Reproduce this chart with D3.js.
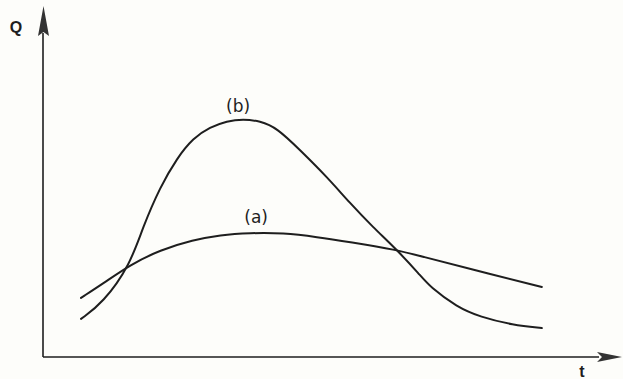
<!DOCTYPE html>
<html>
<head>
<meta charset="utf-8">
<script src="https://cdn.jsdelivr.net/npm/d3@7"></script>
<style>
  html, body { margin: 0; padding: 0; background: #fdfdfa; }
  svg { display: block; }
</style>
</head>
<body>
<svg id="chart" width="623" height="379"></svg>
<script>
// time (t) values and discharge (Q) values for each hydrograph
const tA = [0.99, 1.59, 2.27, 3.05, 3.91, 4.61, 5.39, 6.25, 7.14, 7.99, 9.22, 9.82, 11.12, 12.99];
const qA = [1.74, 2.18, 2.71, 3.15, 3.44, 3.59, 3.65, 3.65, 3.53, 3.38, 3.15, 2.97, 2.59, 2.06];

const tB = [0.99, 1.56, 2.27, 2.60, 3.05, 3.49, 3.91, 4.35, 4.79, 5.21, 5.65, 6.09, 6.69, 7.40, 7.99, 8.59, 9.22, 9.82, 10.08, 10.78, 11.38, 12.24, 12.99];
const qB = [1.12, 1.59, 2.71, 3.82, 5.00, 5.85, 6.44, 6.76, 6.94, 7.00, 6.94, 6.74, 6.09, 5.29, 4.53, 3.82, 3.15, 2.41, 2.06, 1.47, 1.18, 0.94, 0.85];

const seriesLabels = ["(a)", "(b)"];
const labelPos = [{t: 5.55, q: 3.94}, {t: 5.08, q: 7.21}]; // label anchor positions in data units
const axisLabels = {x: "t", y: "Q"};

const svg = d3.select("#chart");
const ink = "#1e1e1e";

const x = d3.scaleLinear().domain([0, 15]).range([43, 619]);
const y = d3.scaleLinear().domain([0, 10]).range([357, 17]);

// axes (no ticks)
const xAxis = svg.append("g")
  .attr("transform", `translate(0,${y(0)})`)
  .call(d3.axisBottom(x).tickValues([]).tickSizeOuter(0));
xAxis.select(".domain").attr("stroke", ink).attr("stroke-width", 1.6)
  .attr("d", `M${x(0)},0H${x.range()[1] - 20}`);

const yAxis = svg.append("g")
  .attr("transform", `translate(${x(0)},0)`)
  .call(d3.axisLeft(y).tickValues([]).tickSizeOuter(0));
yAxis.select(".domain").attr("stroke", ink).attr("stroke-width", 1.6)
  .attr("d", `M0,${y(0)}V${y.range()[1] + 16}`);

// arrowheads
const xEnd = x.range()[1] + 3;
svg.append("path")
  .attr("d", `M${xEnd},${y(0)} L${xEnd - 25},${y(0) - 5} L${xEnd - 20},${y(0)} L${xEnd - 25},${y(0) + 5} Z`)
  .attr("fill", "#333");
const yEnd = y.range()[1] - 11;
svg.append("path")
  .attr("d", `M${x(0) + 0.5},${yEnd} L${x(0) - 5},${yEnd + 30} L${x(0) + 0.5},${yEnd + 26} L${x(0) + 6},${yEnd + 30} Z`)
  .attr("fill", "#333");

// curves
const line = d3.line()
  .x(d => x(d[0]))
  .y(d => y(d[1]))
  .curve(d3.curveBasis);

const dataA = tA.map((t, i) => [t, qA[i]]);
const dataB = tB.map((t, i) => [t, qB[i]]);

[dataA, dataB].forEach(d => {
  svg.append("path")
    .datum(d)
    .attr("d", line)
    .attr("fill", "none")
    .attr("stroke", ink)
    .attr("stroke-width", 2)
    .attr("stroke-linecap", "round");
});

// series labels
seriesLabels.forEach((lab, i) => {
  svg.append("text")
    .attr("x", x(labelPos[i].t))
    .attr("y", y(labelPos[i].q))
    .attr("text-anchor", "middle")
    .attr("font-family", "DejaVu Sans, sans-serif")
    .attr("font-size", 17)
    .attr("fill", ink)
    .text(lab);
});

// axis labels
svg.append("text")
  .attr("x", 16).attr("y", 33)
  .attr("text-anchor", "middle")
  .attr("font-family", "Liberation Sans, Arial, sans-serif")
  .attr("font-weight", "bold")
  .attr("font-size", 16)
  .attr("fill", ink)
  .text(axisLabels.y);

svg.append("text")
  .attr("x", 582).attr("y", 377)
  .attr("text-anchor", "middle")
  .attr("font-family", "Liberation Sans, Arial, sans-serif")
  .attr("font-weight", "bold")
  .attr("font-size", 16)
  .attr("fill", ink)
  .text(axisLabels.x);
</script>
</body>
</html>
